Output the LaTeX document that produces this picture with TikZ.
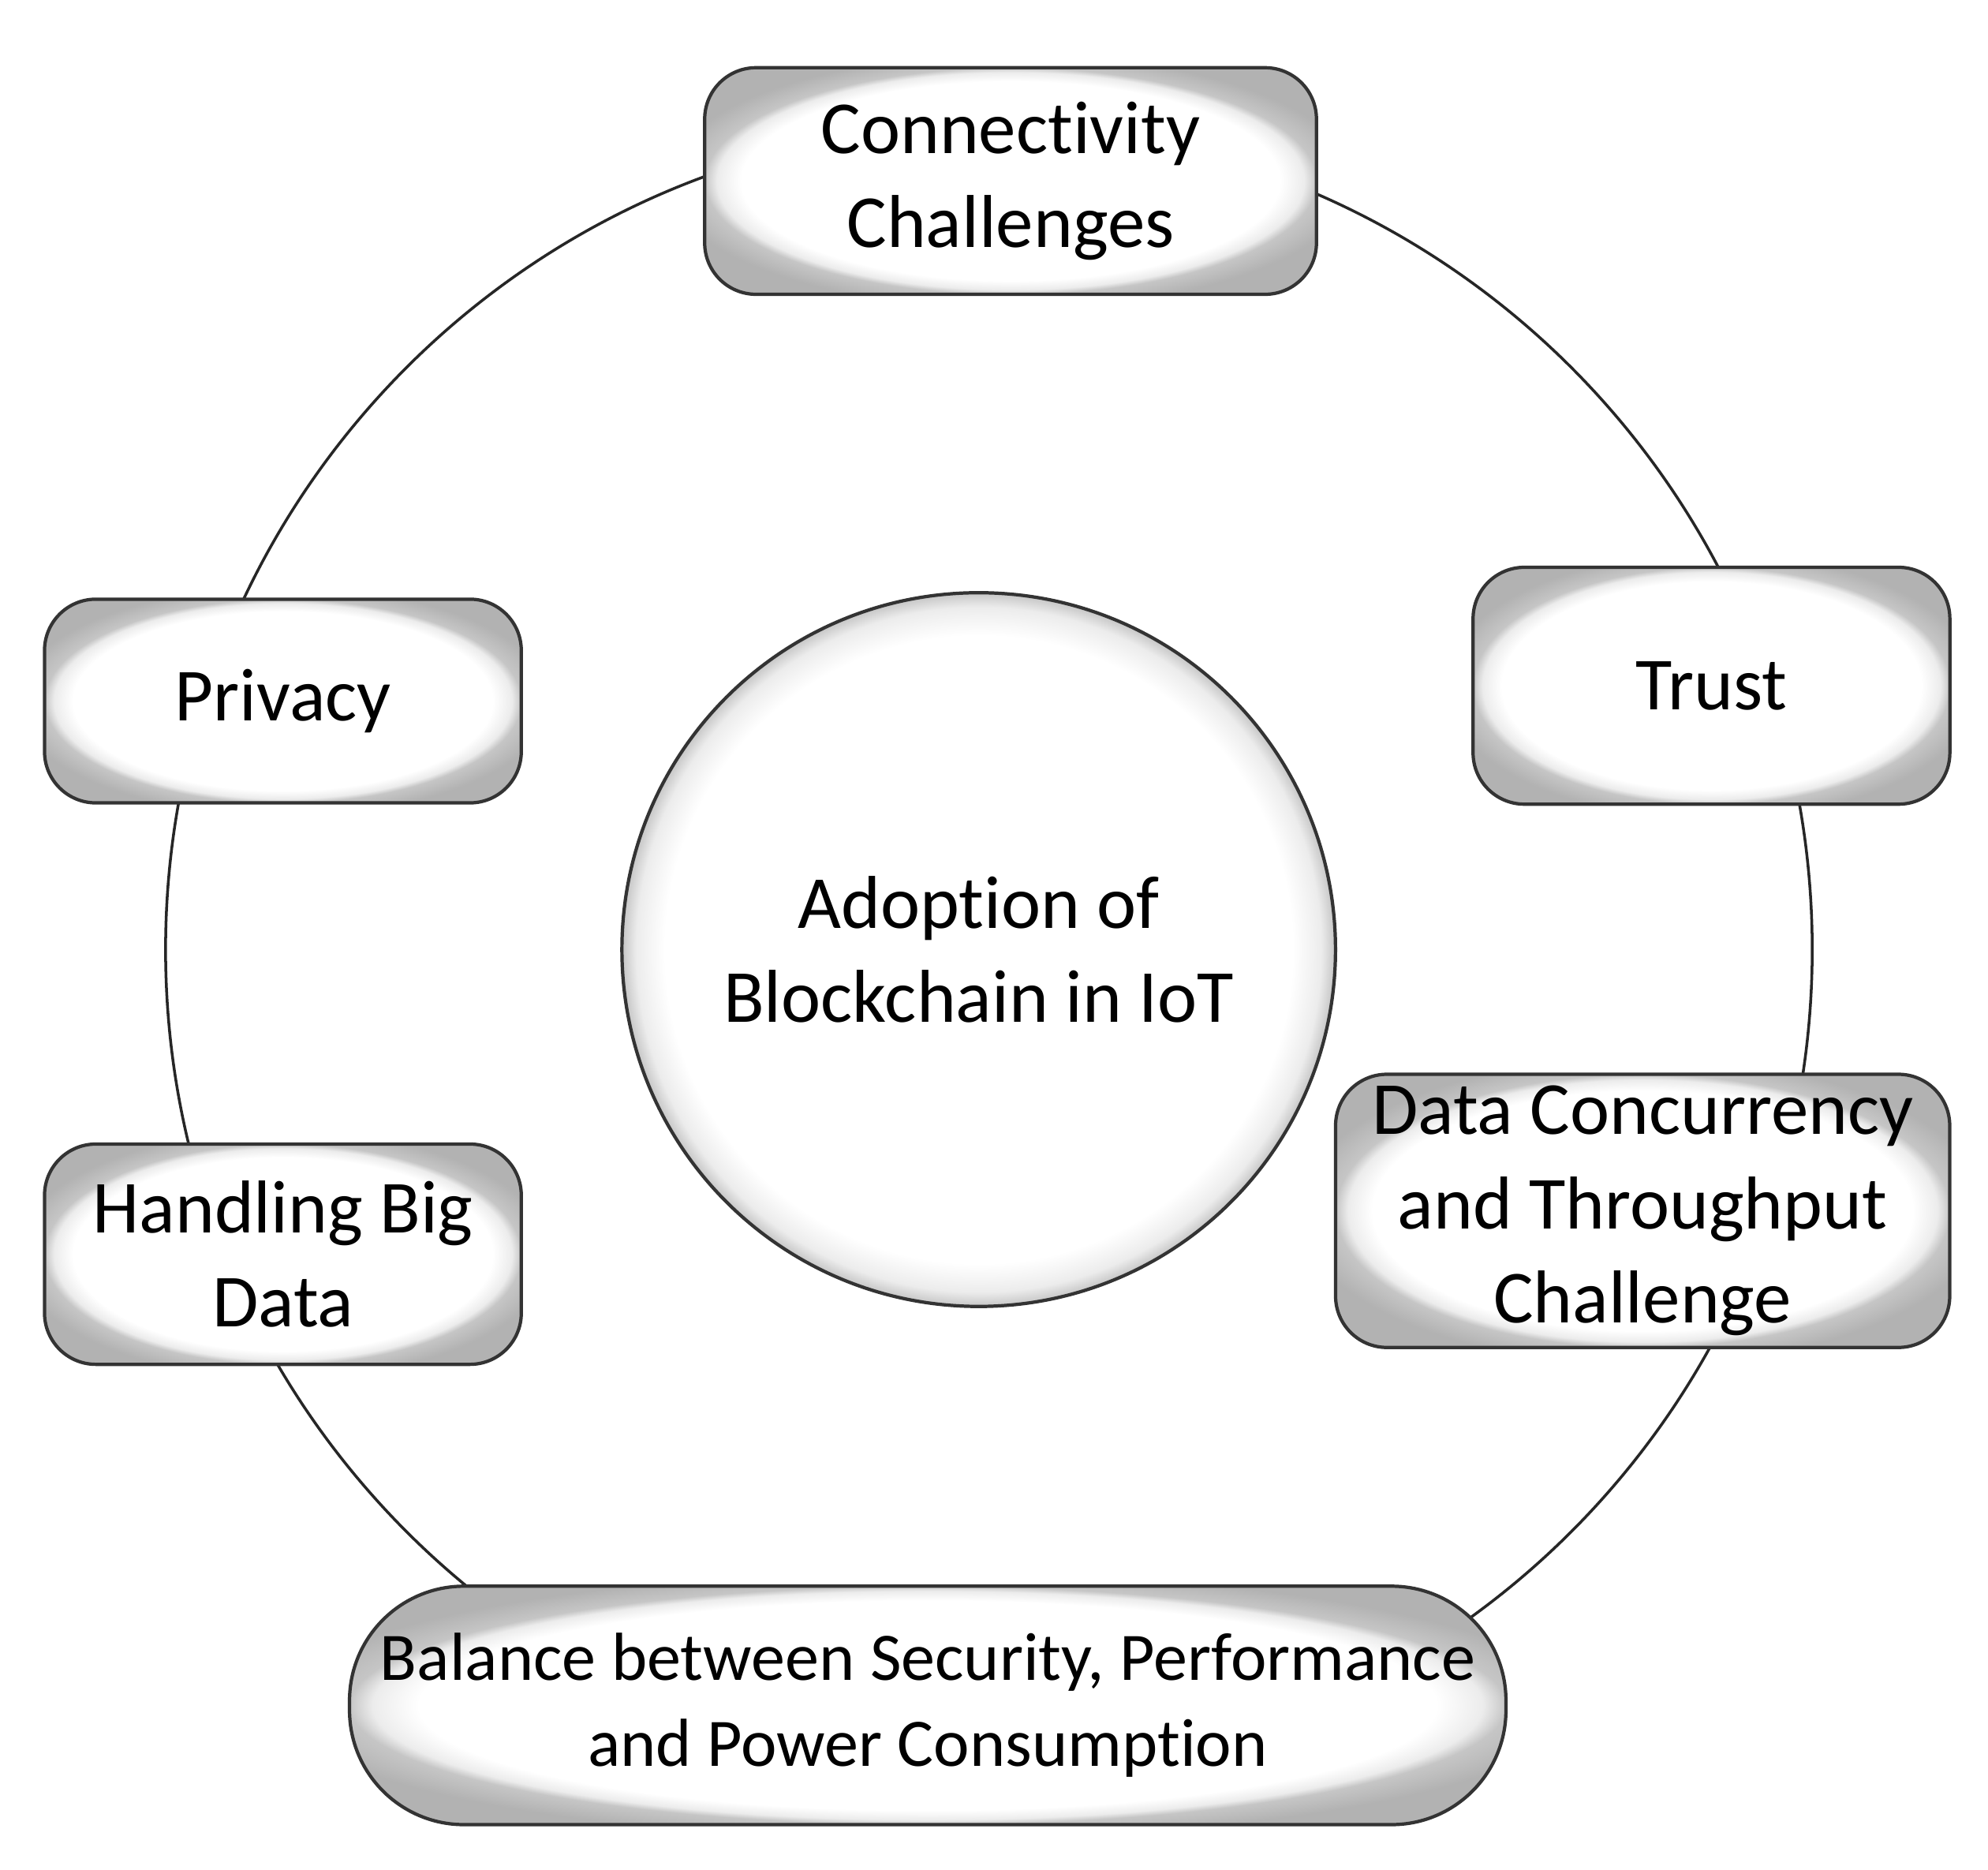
\documentclass[tikz,border=0pt]{standalone}
\usepackage{fontspec}
\setmainfont{Carlito}[RawFeature={-liga;-clig;-calt}]
\pgfdeclareradialshading{glow}{\pgfpoint{0bp}{0bp}}{%
  color(0bp)=(white); color(22bp)=(white); color(24bp)=(gray!15);
  color(25bp)=(gray!45); color(28bp)=(gray!60); color(50bp)=(gray!60)}
\tikzset{
  box/.style={draw=black!80, line width=1.2pt, rounded corners=0.65cm,
    shading=glow, align=center, inner sep=2pt,
    font=\fontsize{27}{34}\selectfont},
  hub/.style={circle, draw=black!80, line width=1.2pt, shading=glow,
    minimum size=9.04cm, align=center, font=\fontsize{27}{34}\selectfont},
  ring/.style={line width=1pt, black!85}
}
\begin{document}
\begin{tikzpicture}[x=0.01615cm,y=-0.01615cm]
\useasboundingbox (0,0) rectangle (1560,1467);
\fill[white] (0,0) rectangle (1560,1467);

\draw[ring] (776,745) circle [radius=10.43cm];

\node[hub] (iot) at (768,745) {Adoption of\\Blockchain in IoT};

\node[box, minimum width=7.75cm, minimum height=2.87cm] (conn)    at ( 793, 142) {Connectivity\\Challenges};
\node[box, minimum width=6.04cm, minimum height=3.00cm] (trust)   at (1343, 538) {Trust};
\node[box, minimum width=6.04cm, minimum height=2.58cm] (privacy) at ( 222, 550) {Privacy};
\node[box, minimum width=6.04cm, minimum height=2.79cm] (bigdata) at ( 222, 984) {Handling Big\\Data};
\node[box, minimum width=7.78cm, minimum height=3.46cm] (concur)  at (1289, 950) {Data Concurrency\\and Throughput\\Challenge};
\node[box, minimum width=14.65cm, minimum height=3.02cm, rounded corners=1.45cm,
  font=\fontsize{24.5}{31}\selectfont] (balance) at (728,1338)
  {Balance between Security, Performance\\and Power Consumption};
\end{tikzpicture}
\end{document}
